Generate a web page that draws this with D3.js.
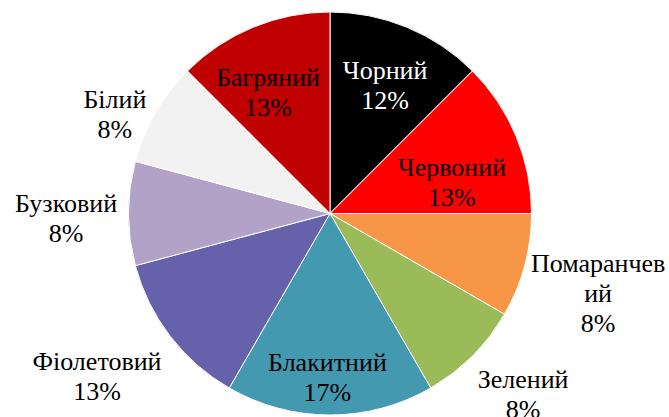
<!DOCTYPE html>
<html>
<head>
<meta charset="utf-8">
<script src="https://cdn.jsdelivr.net/npm/d3@7"></script>
<style>
  body { margin: 0; background: #fff; }
  svg { display: block; }
</style>
</head>
<body>
<div id="chart-area"></div>
<script>
const WIDTH = 669
const HEIGHT = 417
const CX = 330, CY = 213.5, R = 201.5

// Data
const categories = ["Чорний", "Червоний", "Помаранчевий", "Зелений", "Блакитний", "Фіолетовий", "Бузковий", "Білий", "Багряний"]
const counts = [3, 3, 2, 2, 4, 3, 2, 2, 3]
const percentLabels = ["12%", "13%", "8%", "8%", "17%", "13%", "8%", "8%", "13%"]
const colors = ["#000000", "#ff0000", "#f79646", "#9bbb59", "#4299b0", "#6661ab", "#b2a2c7", "#f2f2f2", "#c00000"]
const textColors = ["#ffffff", "#000000", "#000000", "#000000", "#000000", "#000000", "#000000", "#000000", "#000000"]

// label placement: [radius factor, angle offset in degrees]
const labelPlace = [[0.694, 0.7], [0.625, 8], [1.387, 1.4], [1.31, -2], [0.81, 0.9], [1.41, 2.6], [1.31, -1], [1.176, -5.2], [0.677, -4.5]]

const svg = d3.select("#chart-area").append("svg")
  .attr("width", WIDTH)
  .attr("height", HEIGHT)
  .append("g")
  .attr("transform", `translate(${CX},${CY})`)

const pie = d3.pie().sort(null).value(d => d)
const arcs = pie(counts)
const arc = d3.arc().innerRadius(0).outerRadius(R)

svg.selectAll("path")
  .data(arcs)
  .join("path")
  .attr("d", arc)
  .attr("fill", (d, i) => colors[i])
  .attr("stroke", "#ffffff")
  .attr("stroke-width", 1)

const FONT_FAMILY = "Liberation Serif"
const FONT = 26
const LINE = 30
const MAXW = 145

const labels = svg.selectAll("g.label")
  .data(arcs)
  .join("g")
  .attr("class", "label")
  .attr("transform", (d, i) => {
    const a = (d.startAngle + d.endAngle) / 2 + labelPlace[i][1] * Math.PI / 180
    const r = R * labelPlace[i][0]
    return `translate(${r * Math.sin(a)},${-r * Math.cos(a)})`
  })

labels.each(function(d, i) {
  const g = d3.select(this)
  // wrap the category name by measured width
  const probe = g.append("text").attr("font-family", FONT_FAMILY).attr("font-size", FONT)
  const name = categories[i]
  let lines = []
  let cur = ""
  for (const ch of name) {
    probe.text(cur + ch)
    if (probe.node().getComputedTextLength() > MAXW && cur.length) {
      lines.push(cur)
      cur = ch
    } else cur += ch
  }
  lines.push(cur)
  probe.remove()
  lines.push(percentLabels[i])

  const t = g.append("text")
    .attr("text-anchor", "middle")
    .attr("font-family", FONT_FAMILY)
    .attr("font-size", FONT)
    .attr("fill", textColors[i])
  const y0 = -(lines.length - 1) * LINE / 2
  lines.forEach((l, k) => {
    t.append("tspan")
      .attr("x", 0)
      .attr("y", y0 + k * LINE)
      .attr("dy", "0.35em")
      .text(l)
  })
})
</script>
</body>
</html>
